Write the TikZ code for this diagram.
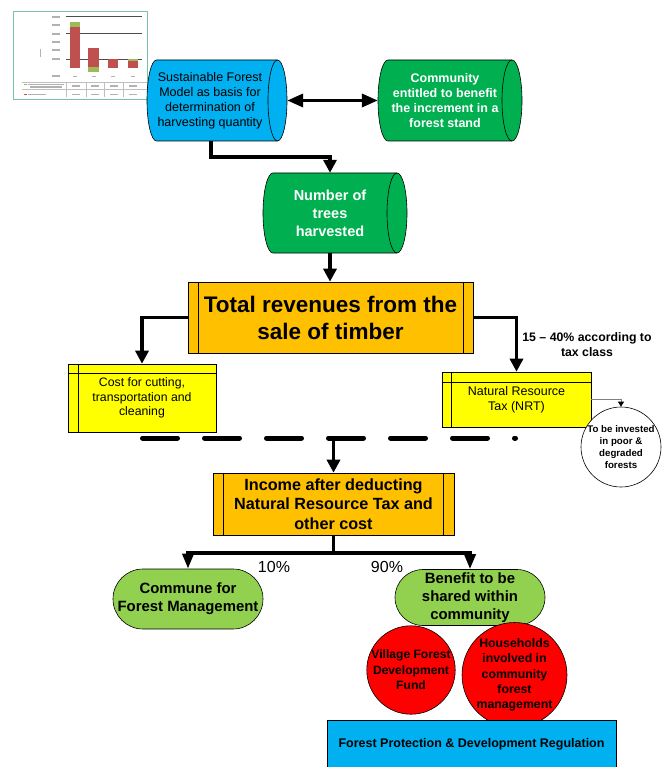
\documentclass[tikz,border=0pt]{standalone}
\usepackage{fontspec}
\setmainfont{Liberation Sans}
\usetikzlibrary{arrows.meta,shapes.geometric,shapes.misc,calc}
\definecolor{cylblue}{HTML}{00B0F0}
\definecolor{cylgreen}{HTML}{00B050}
\definecolor{boxorange}{HTML}{FFC000}
\definecolor{boxyellow}{HTML}{FFFF00}
\definecolor{lightgreen}{HTML}{92D050}
\definecolor{barred}{HTML}{C0504D}
\definecolor{bargreen}{HTML}{9BBB59}
\definecolor{chartframe}{HTML}{7CC4A0}
\begin{document}
\begin{tikzpicture}[x=1pt,y=-1pt,
  cylshape/.style={draw=black, line width=0.6pt},
  cyltext/.style={rectangle, align=center, inner sep=0pt},
  obox/.style={rectangle, draw=black, line width=0.6pt, fill=boxorange, align=center, inner sep=0pt},
  ybox/.style={rectangle, draw=black, line width=0.6pt, fill=boxyellow, align=center, inner sep=0pt},
  stad/.style={rounded rectangle, draw=black, line width=0.6pt, fill=lightgreen, align=center, inner sep=0pt},
  rcirc/.style={circle, draw=black, line width=0.6pt, fill=red, align=center, inner sep=0pt},
  thick line/.style={line width=3.5pt},
  arr/.style={line width=3.5pt, -{Triangle[length=13pt,width=13pt]}},
  arrtwo/.style={line width=3.5pt, {Triangle[length=16pt,width=13pt]}-{Triangle[length=16pt,width=13pt]}},
  arrs/.style={line width=3.5pt, -{Triangle[length=15pt,width=11pt]}},
  thinarr/.style={line width=1pt, draw=gray, -{Triangle[length=5pt,width=6pt,color=black]}},
  dashline/.style={line width=5pt, line cap=round, dash pattern=on 35pt off 27pt},
  chartmark/.style={fill=gray!60},
]
\useasboundingbox (0,0) rectangle (664,767);

% ---- embedded chart ----
\draw[chartframe, line width=1pt] (13,12) rectangle (147,100);
\foreach \yy in {16.7,33.3,59.3} \draw[gray!60!black, line width=0.8pt] (66,\yy) -- (142,\yy);
\foreach \yy in {17,25,34,42,50,59,76} \fill[chartmark] (52,\yy-0.7) rectangle (60,\yy+0.7);
\fill[chartmark] (39.5,49) rectangle (41,57);
\fill[barred] (70,27) rectangle (80,68);
\fill[bargreen] (70,22) rectangle (80,27);
\fill[barred] (88,48) rectangle (99,67);
\fill[bargreen] (88,67) rectangle (99,72);
\fill[barred] (108,59) rectangle (118,68);
\fill[bargreen] (128,59) rectangle (138,61);
\fill[barred] (128,61) rectangle (138,68);
\foreach \xx in {75,94,113,133} \fill[chartmark] (\xx-2,76) rectangle (\xx+2,77.2);
\draw[gray!50, line width=0.4pt] (22,82) -- (147,82);
\draw[gray!50, line width=0.4pt] (22,89) -- (147,89);
\foreach \xx in {66,86,104,123} \draw[gray!50, line width=0.4pt] (\xx,82) -- (\xx,97);
\fill[bargreen] (24,84) rectangle (27,85);
\fill[chartmark] (28,83.8) rectangle (64,85.2);
\fill[chartmark] (30,86.5) rectangle (62,88);
\fill[barred] (24,94) rectangle (27,95);
\fill[chartmark] (28,93.8) rectangle (46,95.2);
\foreach \xx in {76,95,114,133} {\fill[chartmark] (\xx-4,85) rectangle (\xx+4,87); \fill[chartmark] (\xx-4,94) rectangle (\xx+4,95);}

% ---- cylinders (shapes) ----
\filldraw[cylshape, fill=cylblue] (156.5,60) arc[start angle=90,end angle=270,x radius=9.5pt,y radius=40.5pt]
  -- (277.5,141) arc[start angle=-90,end angle=90,x radius=9.5pt,y radius=40.5pt] -- cycle;
\draw[cylshape] (277.5,60) arc[start angle=90,end angle=270,x radius=9.5pt,y radius=40.5pt];

\filldraw[cylshape, fill=cylgreen] (388,60) arc[start angle=90,end angle=270,x radius=10pt,y radius=40.5pt]
  -- (512,141) arc[start angle=-90,end angle=90,x radius=10pt,y radius=40.5pt] -- cycle;
\draw[cylshape] (512,60) arc[start angle=90,end angle=270,x radius=10pt,y radius=40.5pt];

\filldraw[cylshape, fill=cylgreen] (273,173) arc[start angle=90,end angle=270,x radius=10pt,y radius=40pt]
  -- (397,253) arc[start angle=-90,end angle=90,x radius=10pt,y radius=40pt] -- cycle;
\draw[cylshape] (397,173) arc[start angle=90,end angle=270,x radius=10pt,y radius=40pt];

% ---- cylinder texts ----
\node[cyltext, minimum width=126pt, minimum height=81pt,
  font=\fontsize{12.5}{15}\selectfont] (sfm) at (210,100.5)
  {Sustainable Forest\\Model as basis for\\determination of\\harvesting quantity};
\node[cyltext, minimum width=134pt, minimum height=81pt,
  text=white, font=\bfseries\fontsize{12.5}{15}\selectfont] (comm) at (445,100.5)
  {Community\\entitled to benefit\\the increment in a\\forest stand};
\node[cyltext, minimum width=134pt, minimum height=80pt,
  text=white, font=\bfseries\fontsize{14.5}{18}\selectfont] (trees) at (330,213)
  {Number of\\trees\\harvested};

% ---- boxes ----
\node[obox, minimum width=285pt, minimum height=71pt, font=\bfseries\fontsize{22.5}{27}\selectfont] (tot) at (330.5,317.5)
  {Total revenues from the\\sale of timber};
\draw[line width=0.6pt] ([xshift=11pt]tot.north west) -- ([xshift=11pt]tot.south west);
\draw[line width=0.6pt] ([xshift=-10pt]tot.north east) -- ([xshift=-10pt]tot.south east);

\node[ybox, minimum width=148pt, minimum height=68pt, font=\fontsize{12.3}{14.5}\selectfont] (cost) at (142,398)
  {Cost for cutting,\\transportation and\\cleaning};
\draw[line width=0.6pt] ([yshift=-10pt]cost.north west) -- ([yshift=-10pt]cost.north east);
\draw[line width=0.6pt] ([xshift=11pt]cost.north west) -- ([xshift=11pt]cost.south west);

\node[ybox, minimum width=149pt, minimum height=55pt, font=\fontsize{12.5}{15}\selectfont] (nrt) at (516.5,399.5)
  {Natural Resource\\Tax (NRT)};
\draw[line width=0.6pt] ([yshift=-11pt]nrt.north west) -- ([yshift=-11pt]nrt.north east);
\draw[line width=0.6pt] ([xshift=10pt]nrt.north west) -- ([xshift=10pt]nrt.south west);

\node[circle, draw=black, line width=0.6pt, fill=white, minimum size=80pt, inner sep=0pt, align=center,
  font=\bfseries\fontsize{9.7}{12}\selectfont] (inv) at (621,447)
  {To be invested\\in poor \&\\degraded\\forests};

\node[obox, minimum width=241pt, minimum height=62pt, font=\bfseries\fontsize{16.2}{19.5}\selectfont] (inc) at (333.5,504)
  {Income after deducting\\Natural Resource Tax and\\other cost};
\draw[line width=0.6pt] ([xshift=11pt]inc.north west) -- ([xshift=11pt]inc.south west);
\draw[line width=0.6pt] ([xshift=-11pt]inc.north east) -- ([xshift=-11pt]inc.south east);

\node[stad, minimum width=150pt, minimum height=60pt, font=\bfseries\fontsize{14.9}{18}\selectfont] (commune) at (188,599)
  {Commune for\\Forest Management};
\node[stad, minimum width=150pt, minimum height=56pt, font=\bfseries\fontsize{14.9}{18}\selectfont] (benefit) at (470,597.5)
  {Benefit to be\\shared within\\community};

\node[rcirc, minimum size=88pt, font=\bfseries\fontsize{12.1}{15.5}\selectfont] (vfdf) at (411,670)
  {Village Forest\\Development\\Fund};
\node[rcirc, minimum size=103pt, font=\bfseries\fontsize{12.3}{15.3}\selectfont] (hh) at (514.5,675)
  {Households\\involved in\\community\\forest\\management};

\node[rectangle, draw=black, line width=0.6pt, fill=cylblue, minimum width=289pt, minimum height=48pt, inner sep=0pt,
  font=\bfseries\fontsize{12.5}{15}\selectfont] (fpdr) at (471.5,744)
  {Forest Protection \& Development Regulation};

% ---- labels ----
\node[align=center, font=\bfseries\fontsize{12.3}{15}\selectfont, inner sep=0pt] (taxlab) at (587,344.5)
  {15 – 40\% according to\\tax class};
\node[font=\fontsize{16}{18}\selectfont, inner sep=0pt] (ten) at (274,567) {10\%};
\node[font=\fontsize{16}{18}\selectfont, inner sep=0pt] (ninety) at (387,567) {90\%};

% ---- connectors ----
\draw[arrtwo] ([xshift=14pt]sfm.east) -- (comm.west);
\draw[arr] ([xshift=1pt]sfm.south) -- ++(0,16) -| (trees.north);
\draw[arr] (trees.south) -- (trees.south |- tot.north);
\draw[arr] (tot.west) -| (cost.north);
\draw[arr] (tot.east) -| (nrt.north);
\draw[thinarr] (nrt.east) -| (inv.north);

\draw[dashline] (142.5,438) -- (515.5,438);
\coordinate (dmid) at (333.5,438);
\draw[arr] (dmid) -- (inc.north);

\coordinate (split) at (333.5,553);
\draw[thick line] (inc.south) -- (split);
\draw[arrs] (split) -| (commune.north);
\draw[arrs] (split) -| (benefit.north);
\end{tikzpicture}
\end{document}
